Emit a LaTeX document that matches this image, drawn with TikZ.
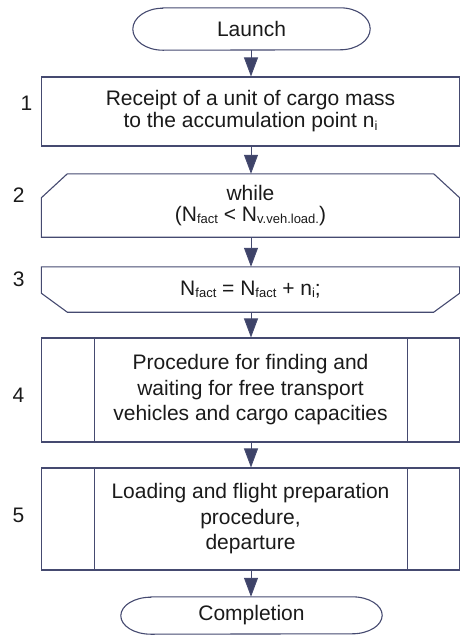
\documentclass[tikz,border=0pt]{standalone}
\usepackage{fontspec}
\setmainfont{Liberation Sans}
\usetikzlibrary{arrows.meta,calc}
\definecolor{edge}{HTML}{454A70}
\definecolor{tipc}{HTML}{3E4368}
\definecolor{txt}{HTML}{1A1A1A}
\newcommand\lowsub[1]{\raisebox{-2.5pt}{\fontsize{13}{13}\selectfont #1}}
\begin{document}
\begin{tikzpicture}[x=1pt,y=1pt,
  every node/.style={font=\fontsize{21}{25.5}\selectfont, text=txt},
  boxshape/.style={draw=edge, line width=1.1pt, minimum width=418pt, inner sep=0pt, align=center},
  ghost/.style={minimum width=418pt, inner sep=0pt, align=center},
  termshape/.style={inner sep=0pt},
  numlabel/.style={inner sep=0pt},
  flow/.style={draw=edge, line width=1pt, -{Triangle[length=19pt,width=14pt,fill=tipc]}},
  outline/.style={draw=edge, line width=1.1pt}
]
\useasboundingbox (0,0) rectangle (460,-635);
\coordinate (axis) at (251,0);

% terminals
\node[termshape, minimum width=237pt, minimum height=42pt] (launch) at (251.5,-29) {Launch};
\draw[outline] ([xshift=30pt]launch.north west) -- ([xshift=-30pt]launch.north east)
  arc[start angle=90,end angle=-90,x radius=30pt,y radius=21pt]
  -- ([xshift=30pt]launch.south west)
  arc[start angle=270,end angle=90,x radius=30pt,y radius=21pt] -- cycle;

\node[termshape, minimum width=261pt, minimum height=37pt] (done) at (251.5,-615.5) {Completion};
\draw[outline] ([xshift=30pt]done.north west) -- ([xshift=-30pt]done.north east)
  arc[start angle=90,end angle=-90,x radius=30pt,y radius=18.5pt]
  -- ([xshift=30pt]done.south west)
  arc[start angle=270,end angle=90,x radius=30pt,y radius=18.5pt] -- cycle;

% box 1
\node[boxshape, minimum height=69pt, font=\fontsize{21}{22}\selectfont] (b1) at (250.5,-111.5)
  {Receipt of a unit of cargo mass\\to the accumulation point n\lowsub{i}};

% box 2 (loop start)
\node[ghost, minimum height=63pt, font=\fontsize{21}{21}\selectfont] (b2) at (250.5,-205.5)
  {while\\(N\lowsub{fact} < N\lowsub{v.veh.load.})};
\draw[outline] ([yshift=-24pt]b2.north west) -- ([xshift=26pt]b2.north west)
  -- ([xshift=-26pt]b2.north east) -- ([yshift=-24pt]b2.north east)
  -- (b2.south east) -- (b2.south west) -- cycle;

% box 3 (loop end)
\node[ghost, minimum height=45pt] (b3) at (250.5,-289.5)
  {N\lowsub{fact} = N\lowsub{fact} + n\lowsub{i};};
\draw[outline] (b3.north west) -- (b3.north east) -- ([yshift=19pt]b3.south east)
  -- ([xshift=-26pt]b3.south east) -- ([xshift=26pt]b3.south west)
  -- ([yshift=19pt]b3.south west) -- cycle;

% box 4 (predefined process)
\node[boxshape, minimum height=104pt] (b4) at (250.5,-390)
  {Procedure for finding and\\waiting for free transport\\vehicles and cargo capacities};
\draw[outline] ([xshift=53.5pt]b4.north west) -- ([xshift=53.5pt]b4.south west);
\draw[outline] ([xshift=-52.5pt]b4.north east) -- ([xshift=-52.5pt]b4.south east);

% box 5 (predefined process)
\node[boxshape, minimum height=102pt] (b5) at (250.5,-519)
  {Loading and flight preparation\\procedure,\\departure};
\draw[outline] ([xshift=53.5pt]b5.north west) -- ([xshift=53.5pt]b5.south west);
\draw[outline] ([xshift=-52.5pt]b5.north east) -- ([xshift=-52.5pt]b5.south east);

% step numbers
\node[numlabel] (n1) at (26.5,-103.5) {1};
\node[numlabel] (n2) at (18.7,-195) {2};
\node[numlabel] (n3) at (18.7,-279.5) {3};
\node[numlabel] (n4) at (18.5,-395) {4};
\node[numlabel] (n5) at (18.5,-515) {5};

% connectors
\draw[flow] (launch.south -| axis) -- (b1.north -| axis);
\draw[flow] (b1.south -| axis) -- (b2.north -| axis);
\draw[flow] (b2.south -| axis) -- (b3.north -| axis);
\draw[flow] (b3.south -| axis) -- (b4.north -| axis);
\draw[flow] (b4.south -| axis) -- (b5.north -| axis);
\draw[flow] (b5.south -| axis) -- (done.north -| axis);
\end{tikzpicture}
\end{document}
